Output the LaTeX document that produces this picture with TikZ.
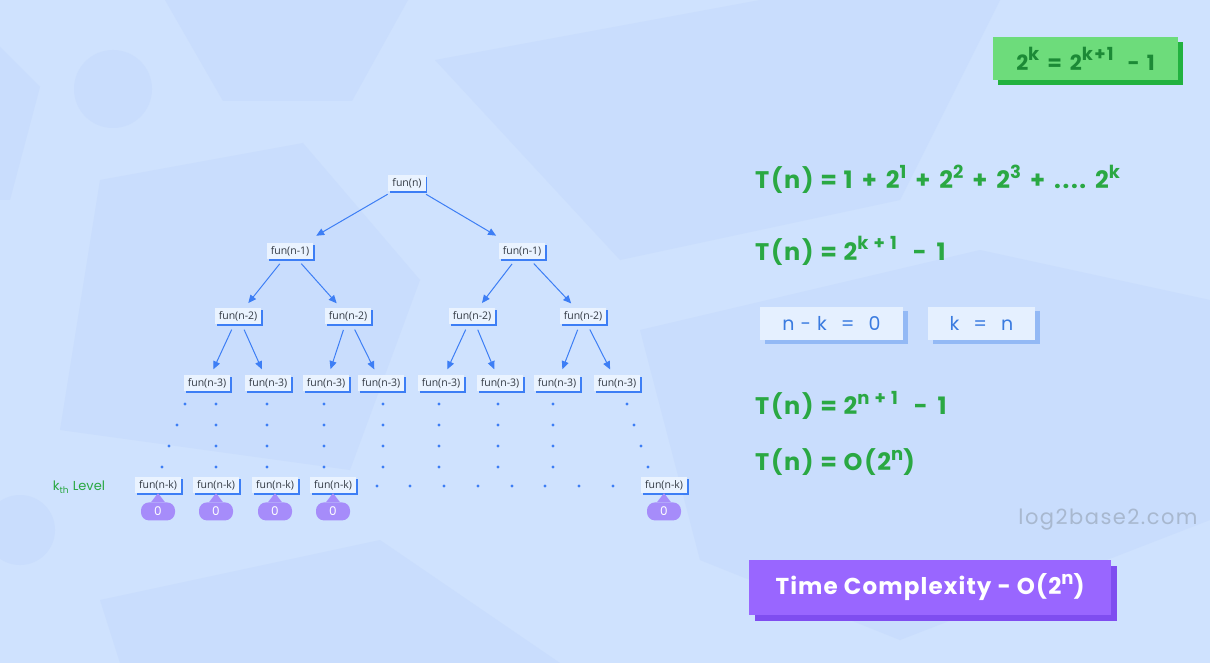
\documentclass[tikz,border=0pt]{standalone}
\usepackage{fontspec}
\setmainfont{Poppins}
\newfontfamily\nodefont{Open Sans}
\newfontfamily\wideft[LetterSpace=7]{Poppins}
\newfontfamily\midft[LetterSpace=5]{Poppins}
\usetikzlibrary{positioning, shadows, arrows.meta}

\definecolor{bgblue}{HTML}{CFE2FE}
\definecolor{bgshape}{HTML}{C9DDFD}
\definecolor{funblue}{HTML}{3D7EF5}
\definecolor{funfill}{HTML}{EAF3FF}
\definecolor{funtext}{HTML}{333A44}
\definecolor{zerofill}{HTML}{A68CFA}
\definecolor{eqgreen}{HTML}{2AA843}
\definecolor{boxgreen}{HTML}{6DDC7B}
\definecolor{boxgreendark}{HTML}{22B23F}
\definecolor{textgreendark}{HTML}{1C8A36}
\definecolor{eqfill}{HTML}{E5F0FF}
\definecolor{eqshade}{HTML}{93B9F5}
\definecolor{eqblue}{HTML}{3A7BE0}
\definecolor{tcfill}{HTML}{9966FF}
\definecolor{tcshade}{HTML}{7F4DF0}
\definecolor{markgray}{HTML}{A8B8CF}

\newcommand\pw[1]{\raisebox{10pt}{\fontsize{18}{18}\selectfont #1}}
\newcommand\pl{\hspace{9pt}+\hspace{9pt}}

\tikzset{
  funbox/.style={fill=funfill, text=funtext, font=\nodefont\fontsize{10.5}{12}\selectfont,
    inner xsep=4pt, inner ysep=2pt, minimum height=16pt,
    general shadow={fill=funblue, shadow xshift=1.8pt, shadow yshift=-1.8pt}},
  call/.style={-{Triangle[width=7pt,length=8pt]}, funblue, line width=1pt,
    shorten <=6pt, shorten >=6pt},
  zero/.style={fill=zerofill, text=white, rounded corners=8pt, minimum width=34pt,
    minimum height=18pt, inner sep=0pt, font=\fontsize{12}{12}\selectfont},
  tdot/.style={circle, fill=funblue, inner sep=0pt, minimum size=3.2pt},
  eqline/.style={anchor=base west, text=eqgreen, inner sep=0pt,
    font=\wideft\bfseries\fontsize{24}{26}\selectfont},
  eqbox/.style={fill=eqfill, text=eqblue, minimum height=33pt, inner sep=0pt,
    font=\midft\fontsize{19}{20}\selectfont,
    general shadow={fill=eqshade, shadow xshift=5pt, shadow yshift=-4pt}}
}

\begin{document}
\begin{tikzpicture}[x=1pt,y=-1pt]
  % background
  \useasboundingbox (0,0) rectangle (1210,663);
  \fill[bgblue] (0,0) rectangle (1210,663);
  \fill[bgshape] (165,0) -- (408,0) -- (352,101) -- (223,101) -- cycle;
  \fill[bgshape] (113,89) circle (39);
  \fill[bgshape] (735,140) circle (45);
  \fill[bgshape] (0,47) -- (40,87) -- (10,200) -- (0,200) -- cycle;
  \fill[bgshape] (100,180) -- (303,143) -- (420,280) -- (350,470) -- (60,430) -- cycle;
  \fill[bgshape] (435,60) -- (760,0) -- (1000,0) -- (900,200) -- (620,260) -- cycle;
  \fill[bgshape] (640,330) -- (980,250) -- (1210,300) -- (1210,520) -- (900,640) -- (700,560) -- cycle;
  \fill[bgshape] (100,600) -- (380,540) -- (560,663) -- (120,663) -- cycle;
  \fill[bgshape] (20,530) circle (35);

  % recursion tree
  \node[funbox] (r) at (407,183) {fun(n)};
  \foreach \i/\x in {1/290, 2/522}
    \node[funbox] (a\i) at (\x,251) {fun(n-1)};
  \foreach \i/\x in {1/238, 2/348, 3/472, 4/583}
    \node[funbox] (b\i) at (\x,316) {fun(n-2)};
  \foreach \i/\x in {1/207, 2/268, 3/326, 4/381, 5/441, 6/500, 7/557, 8/617}
    \node[funbox] (c\i) at (\x,383) {fun(n-3)};
  \foreach \i/\x in {1/158, 2/216, 3/275, 4/333, 5/664}
    \node[funbox] (k\i) at (\x,485) {fun(n-k)};

  \draw[call, shorten >=14pt] (r) -- (a1);
  \draw[call, shorten >=14pt] (r) -- (a2);
  \foreach \p/\c in {a1/b1, a1/b2, a2/b3, a2/b4, b1/c1, b1/c2, b2/c3, b2/c4,
                     b3/c5, b3/c6, b4/c7, b4/c8}
    \draw[call] (\p) -- (\c);

  % base cases
  \foreach \i in {1,...,5} {
    \node[zero, below=9pt of k\i] (z\i) {0};
    \fill[zerofill] ([xshift=-7pt]z\i.north) -- ([yshift=9pt]z\i.north)
      -- ([xshift=7pt]z\i.north) -- cycle;
  }
  \node[text=eqgreen, font=\fontsize{13}{13}\selectfont] (lvl) at (79,487)
    {k\textsubscript{th} Level};

  % dots
  \foreach \x/\y in {185/404, 177/425, 169/446, 162/467,
                     627/404, 634/425, 641/446, 648/467}
    \node[tdot] at (\x,\y) {};
  \foreach \x in {216,267,324,383,439,498,553}
    \foreach \y in {404,425,446,467}
      \node[tdot] at (\x,\y) {};
  \foreach \x in {377,410,444,478,512,545,579,613}
    \node[tdot] at (\x,486) {};

  % working on the right
  \fill[boxgreendark] (998,42) rectangle (1183,85);
  \node[fill=boxgreen, text=textgreendark, minimum width=185pt, minimum height=43pt,
    inner sep=0pt, font=\wideft\bfseries\fontsize{21}{22}\selectfont] (sum) at (1085.5,58.5)
    {2\pw{k}\hspace{8pt}=\hspace{8pt}2\pw{k+1}\hspace{14pt}-\hspace{7pt}1};

  \node[eqline] (t1) at (755,189)
    {T(n) = 1\pl 2\pw{1}\pl 2\pw{2}\pl 2\pw{3}\pl .... 2\pw{k}};
  \node[eqline] (t2) at (755,260) {T(n) = 2\pw{k + 1}\hspace{16pt}-\hspace{10pt}1};
  \node[eqbox, minimum width=143pt] (nk) at (831.5,323.5) {n - k\hspace{14pt}=\hspace{14pt}0};
  \node[eqbox, minimum width=107pt] (kn) at (981.5,323.5) {k\hspace{14pt}=\hspace{14pt}n};
  \node[eqline] (t3) at (755,414) {T(n) = 2\pw{n + 1}\hspace{16pt}-\hspace{10pt}1};
  \node[eqline] (t4) at (755,470) {T(n) = O(2\pw{n})};

  \node[text=markgray, font=\wideft\fontsize{21}{22}\selectfont] (site) at (1108,520) {log2base2.com};

  \fill[tcshade] (755,566) rectangle (1117,621);
  \node[fill=tcfill, text=white, minimum width=362pt, minimum height=55pt, inner sep=0pt,
    font=\midft\bfseries\fontsize{23}{24}\selectfont] (tc) at (930,587.5)
    {Time Complexity - O(2\pw{n})};
\end{tikzpicture}
\end{document}
